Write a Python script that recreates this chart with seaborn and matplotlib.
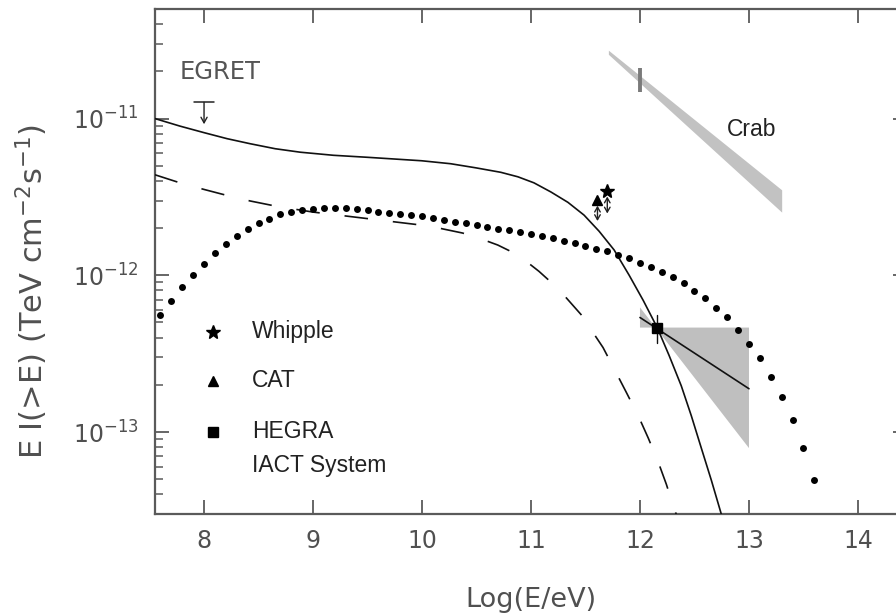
import matplotlib
matplotlib.use("Agg")
import matplotlib.pyplot as plt
import seaborn as sns
import pandas as pd
from matplotlib.ticker import FixedLocator, LogLocator, NullLocator, NullFormatter, LogFormatterSciNotation

# ---------------- data ----------------
total_x = [7.549, 7.779, 8.0, 8.212, 8.423, 8.653, 8.883, 9.187, 9.5, 9.996, 10.263, 10.493,
           10.723, 10.88, 11.027, 11.183, 11.339, 11.487, 11.625, 11.763, 11.901, 12.03,
           12.158, 12.268, 12.379, 12.471, 12.563, 12.655, 12.747]
total_y = [1.0e-11, 8.95e-12, 8.13e-12, 7.44e-12, 6.91e-12, 6.42e-12, 6.10e-12, 5.83e-12,
           5.66e-12, 5.38e-12, 5.15e-12, 4.85e-12, 4.54e-12, 4.25e-12, 3.89e-12, 3.40e-12,
           2.92e-12, 2.42e-12, 1.91e-12, 1.45e-12, 1.0e-12, 6.91e-13, 4.64e-13, 3.07e-13,
           1.97e-13, 1.27e-13, 7.89e-14, 4.92e-14, 2.98e-14]

dash_x = [7.549, 7.779, 8.0, 8.212, 8.423, 8.672, 9.003, 9.454, 9.996, 10.171, 10.373,
          10.539, 10.695, 10.797, 10.889, 10.981, 11.073, 11.247, 11.459, 11.661, 11.763,
          11.873, 11.984, 12.076, 12.168, 12.242, 12.31, 12.35]
dash_y = [4.38e-12, 3.89e-12, 3.53e-12, 3.23e-12, 2.98e-12, 2.75e-12, 2.53e-12, 2.32e-12,
          2.09e-12, 1.99e-12, 1.86e-12, 1.71e-12, 1.56e-12, 1.44e-12, 1.32e-12, 1.19e-12,
          1.06e-12, 8.25e-13, 5.62e-13, 3.46e-13, 2.53e-13, 1.80e-13, 1.27e-13, 9.15e-14,
          6.42e-14, 4.64e-14, 3.30e-14, 2.77e-14]

dot_x = [7.6, 7.7, 7.8, 7.9, 8.0, 8.1, 8.2, 8.3, 8.4, 8.5, 8.6, 8.7, 8.8, 8.9, 9.0, 9.1, 9.2,
         9.3, 9.4, 9.5, 9.6, 9.7, 9.8, 9.9, 10.0, 10.1, 10.2, 10.3, 10.4, 10.5, 10.6, 10.7,
         10.8, 10.9, 11.0, 11.1, 11.2, 11.3, 11.4, 11.5, 11.6, 11.7, 11.8, 11.9, 12.0, 12.1,
         12.2, 12.3, 12.4, 12.5, 12.6, 12.7, 12.8, 12.9, 13.0, 13.1, 13.2, 13.3, 13.4, 13.5,
         13.6]
dot_y = [5.62e-13, 6.81e-13, 8.38e-13, 1.00e-12, 1.18e-12, 1.38e-12, 1.58e-12, 1.78e-12,
         1.97e-12, 2.15e-12, 2.29e-12, 2.46e-12, 2.53e-12, 2.61e-12, 2.65e-12, 2.69e-12,
         2.69e-12, 2.67e-12, 2.65e-12, 2.61e-12, 2.55e-12, 2.50e-12, 2.46e-12, 2.42e-12,
         2.39e-12, 2.32e-12, 2.25e-12, 2.20e-12, 2.15e-12, 2.09e-12, 2.03e-12, 1.97e-12,
         1.94e-12, 1.89e-12, 1.83e-12, 1.78e-12, 1.73e-12, 1.65e-12, 1.60e-12, 1.53e-12,
         1.47e-12, 1.43e-12, 1.34e-12, 1.29e-12, 1.19e-12, 1.125e-12, 1.045e-12, 9.7e-13,
         8.89e-13, 7.89e-13, 7.13e-13, 6.23e-13, 5.38e-13, 4.51e-13, 3.66e-13, 2.98e-13,
         2.25e-13, 1.68e-13, 1.19e-13, 7.9e-14, 4.92e-14]

# Crab band
crab_x = [11.71, 13.30]
crab_hi = [2.73e-11, 3.51e-12]
crab_lo = [2.57e-11, 2.53e-12]
crab_bar_x = 12.0
crab_bar_y = [1.47e-11, 2.1e-11]

# HEGRA IACT system point + bow-tie
hegra_x = 12.158
hegra_y = 4.64e-13
hegra_err = [3.72e-13, 5.55e-13]
bowtie_x = [12.0, 13.0, 13.0, 12.0]
bowtie_y = [6.24e-13, 7.9e-14, 4.64e-13, 4.64e-13]
hegra_fit_x = [12.0, 13.0]
hegra_fit_y = [5.38e-13, 1.89e-13]

# EGRET upper limit
egret_x = 8.0
egret_y = 1.27e-11
egret_tip = 9.2e-12

# CAT and Whipple
cat_x, cat_y, cat_arrow = 11.61, 3.03e-12, [2.78e-12, 2.22e-12]
whip_x, whip_y, whip_arrow = 11.70, 3.46e-12, [3.18e-12, 2.48e-12]

legend_labels = ["Whipple", "CAT", "HEGRA", "IACT System"]
x_ticks = [8, 9, 10, 11, 12, 13, 14]
y_ticks = [1e-13, 1e-12, 1e-11]

# ---------------- style ----------------
sns.set_style("ticks")
plt.rcParams["font.family"] = ["DejaVu Sans"]
plt.rcParams["lines.scale_dashes"] = False

AX_COL = "#5a5a5a"
TXT_COL = "#505050"
SANS = ["Liberation Sans", "DejaVu Sans"]

fig = plt.figure(figsize=(8.96, 6.13), dpi=100)
ax = fig.add_axes([155 / 896, 99 / 613, 752 / 896, 505 / 613])
ax.set_yscale("log")
ax.set_xlim(7.55, 14.45)
ax.set_ylim(3e-14, 5e-11)

# crab band
ax.fill_between(crab_x, crab_lo, crab_hi, color="#c2c2c2", linewidth=0, zorder=1)
ax.plot([crab_bar_x, crab_bar_x], crab_bar_y, color="#7a7a7a", lw=2.8,
        solid_capstyle="butt", zorder=2)

# HEGRA bow-tie
ax.fill(bowtie_x, bowtie_y, color="#bfbfbf", linewidth=0, zorder=1)
ax.plot(hegra_fit_x, hegra_fit_y, color="#111111", lw=1.2, zorder=3)

# curves
df_total = pd.DataFrame({"x": total_x, "y": total_y})
df_dash = pd.DataFrame({"x": dash_x, "y": dash_y})
df_dot = pd.DataFrame({"x": dot_x, "y": dot_y})
sns.lineplot(data=df_total, x="x", y="y", ax=ax, color="#111111", lw=1.2,
             sort=False, estimator=None, zorder=3)
sns.lineplot(data=df_dash, x="x", y="y", ax=ax, color="#111111", lw=1.2,
             sort=False, estimator=None, linestyle=(0, (17, 18)), zorder=3)
sns.scatterplot(data=df_dot, x="x", y="y", ax=ax, color="black", s=25,
                linewidth=0, marker="o", zorder=4)

# HEGRA point
ax.plot([hegra_x, hegra_x], hegra_err, color="#111111", lw=1.0, zorder=4)
ax.plot([hegra_x], [hegra_y], marker="s", ms=7, color="black", ls="none", zorder=5)

# EGRET upper limit
ax.plot([egret_x - 0.095, egret_x + 0.095], [egret_y, egret_y], color="#222222", lw=1.1)
ax.annotate("", xy=(egret_x, egret_tip), xytext=(egret_x, egret_y),
            arrowprops=dict(arrowstyle="->,head_length=0.4,head_width=0.22",
                            color="#222222", lw=1.0, shrinkA=0, shrinkB=0))

# CAT / Whipple
ax.plot([cat_x], [cat_y], marker="^", ms=7.5, color="black", ls="none", zorder=5)
ax.plot([whip_x], [whip_y], marker="*", ms=10, color="black", ls="none", zorder=5)
for xx, arr in ((cat_x, cat_arrow), (whip_x, whip_arrow)):
    ax.annotate("", xy=(xx, arr[1]), xytext=(xx, arr[0]),
                arrowprops=dict(arrowstyle="<->,head_length=0.35,head_width=0.2",
                                color="#222222", lw=1.0, shrinkA=0, shrinkB=0))

# text labels
ax.text(0.0332, 0.875, "EGRET", transform=ax.transAxes, fontsize=17.5, color="#555555",
        va="center", ha="left")
ax.text(0.7606, 0.762, "Crab", transform=ax.transAxes, fontsize=16.5, color="#222222",
        va="center", ha="left", family=SANS)

# legend (manual)
leg_y = [0.3604, 0.2634, 0.1624, 0.097]
for yy, mk, ms in zip(leg_y[:3], ["*", "^", "s"], [10.5, 7.5, 7.5]):
    ax.plot([0.0771], [yy], marker=mk, ms=ms, color="black", ls="none",
            transform=ax.transAxes, clip_on=False)
for yy, lab in zip(leg_y, legend_labels):
    ax.text(0.129, yy, lab, transform=ax.transAxes, fontsize=16.5, color="#222222",
            va="center", ha="left", family=SANS)

# axes styling
ax.xaxis.set_major_locator(FixedLocator(x_ticks))
ax.xaxis.set_minor_locator(NullLocator())
ax.yaxis.set_major_locator(FixedLocator(y_ticks))
ax.yaxis.set_major_formatter(LogFormatterSciNotation())
ax.yaxis.set_minor_locator(LogLocator(base=10, subs=[2, 3, 4, 5, 6, 7, 8, 9], numticks=20))
ax.yaxis.set_minor_formatter(NullFormatter())
ax.tick_params(which="both", direction="in", top=True, right=True, bottom=True, left=True,
               color=AX_COL, labelcolor=TXT_COL, labelsize=17)
ax.tick_params(which="major", length=10, width=1.3)
ax.tick_params(which="minor", length=5.8, width=1.1)
ax.tick_params(axis="x", pad=11)
ax.tick_params(axis="y", pad=12)
for sp in ax.spines.values():
    sp.set_color(AX_COL)
    sp.set_linewidth(1.6)

ax.set_xlabel("Log(E/eV)", fontsize=19.5, color=TXT_COL)
ax.set_ylabel("E I(>E) (TeV cm$^{-2}$s$^{-1}$)", fontsize=22, color=TXT_COL)
ax.xaxis.set_label_coords(0.5, -0.145)
ax.yaxis.set_label_coords(-0.14, 0.44)

fig.savefig("out.png", dpi=100)
